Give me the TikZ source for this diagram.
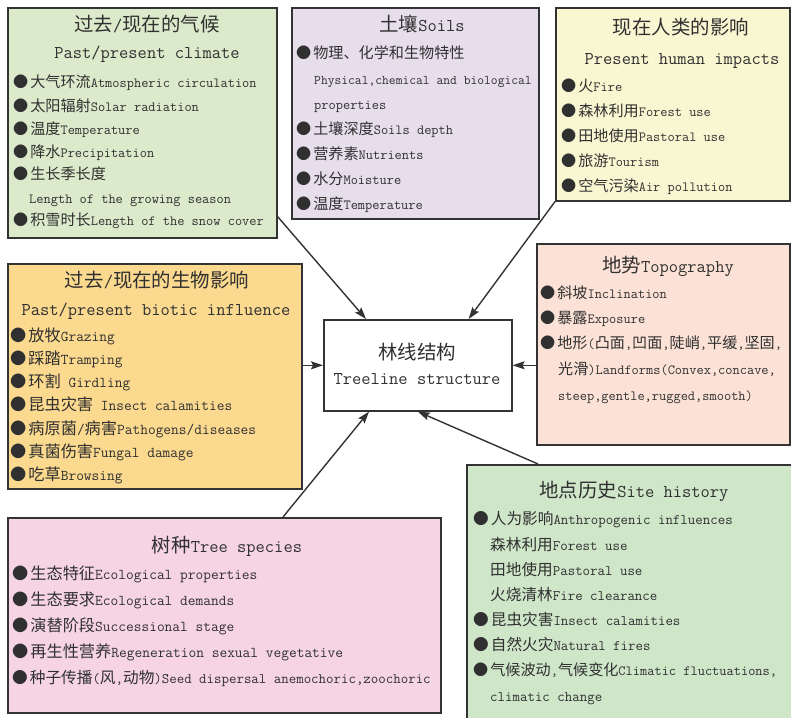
\documentclass[tikz,border=0pt]{standalone}
\usepackage{fontspec}
\newfontfamily\cjk[Scale=1.08]{Noto Sans CJK SC}
\usetikzlibrary{arrows.meta}
\newcommand\zh[1]{{\cjk #1}}
\newcommand\bul{{\cjk ●}\hspace{2pt}}
\definecolor{boxline}{HTML}{333333}
\definecolor{txt}{HTML}{303030}
\definecolor{climfill}{HTML}{DCEACC}
\definecolor{soilfill}{HTML}{E6DEEB}
\definecolor{humanfill}{HTML}{F9F7D2}
\definecolor{bioticfill}{HTML}{FBD98F}
\definecolor{topofill}{HTML}{FCE2D6}
\definecolor{treefill}{HTML}{F6D4E4}
\definecolor{sitefill}{HTML}{CFE6C9}
\begin{document}
\begin{tikzpicture}[x=1pt,y=-1pt,
  box/.style={draw=boxline,line width=1.6pt,anchor=north west,inner sep=0pt},
  ttl/.style={font=\ttfamily\fontsize{18}{20}\selectfont,text=txt,anchor=base,inner sep=0pt},
  itm/.style={font=\ttfamily\fontsize{14}{16}\selectfont,text=txt,anchor=base west,inner sep=0pt},
  itmb/.style={itm,font=\ttfamily\fontsize{15}{17}\selectfont},
  itmm/.style={itm,font=\ttfamily\fontsize{14.5}{16}\selectfont},
  arr/.style={draw=boxline,line width=1.4pt,-{Stealth[length=12pt,width=8pt,inset=2pt]}}]
\useasboundingbox (0,0) rectangle (791,717);
\fill[white] (0,0) rectangle (791,717);

% boxes
\node[box,fill=climfill,minimum width=269pt,minimum height=230pt] (clim) at (7,7) {};
\node[box,fill=soilfill,minimum width=247pt,minimum height=211pt] (soil) at (291,7) {};
\node[box,fill=humanfill,minimum width=234pt,minimum height=193pt] (human) at (555,7) {};
\node[box,fill=bioticfill,minimum width=294pt,minimum height=225pt] (biotic) at (7,263) {};
\node[box,fill=topofill,minimum width=253pt,minimum height=201pt] (topo) at (536,243) {};
\node[box,fill=white,minimum width=188pt,minimum height=91pt] (ctr) at (323,319) {};
\node[box,fill=treefill,minimum width=433pt,minimum height=195pt] (tree) at (7,517) {};
\node[box,fill=sitefill,minimum width=334pt,minimum height=266pt] (site) at (466,464) {};

% climate
\node[ttl] (c0) at (147,31) {\zh{过去}/\zh{现在的气候}};
\node[ttl] (c1) at (147,59) {Past/present climate};
\node[itm] (c2) at (13,87) {\bul\zh{大气环流}Atmospheric circulation};
\node[itm] (c3) at (13,111) {\bul\zh{太阳辐射}Solar radiation};
\node[itm] (c4) at (13,134) {\bul\zh{温度}Temperature};
\node[itm] (c5) at (13,157) {\bul\zh{降水}Precipitation};
\node[itm] (c6) at (13,179) {\bul\zh{生长季长度}};
\node[itm] (c7) at (29,203) {Length of the growing season};
\node[itm] (c8) at (13,225) {\bul\zh{积雪时长}Length of the snow cover};

% soils
\node[ttl] (s0) at (422,31) {\zh{土壤}Soils};
\node[itm] (s1) at (296,58) {\bul\zh{物理、化学和生物特性}};
\node[itm,font=\ttfamily\fontsize{13.2}{15}\selectfont] (s2) at (314,84) {Physical,chemical and biological};
\node[itm] (s3) at (314,109) {properties};
\node[itm] (s4) at (296,134) {\bul\zh{土壤深度}Soils depth};
\node[itm] (s5) at (296,159) {\bul\zh{营养素}Nutrients};
\node[itm] (s6) at (296,184) {\bul\zh{水分}Moisture};
\node[itm] (s7) at (296,209) {\bul\zh{温度}Temperature};

% human
\node[ttl] (h0) at (681,35) {\zh{现在人类的影响}};
\node[ttl] (h1) at (682,64) {Present human impacts};
\node[itm] (h2) at (561,91) {\bul\zh{火}Fire};
\node[itm] (h3) at (561,116) {\bul\zh{森林利用}Forest use};
\node[itm] (h4) at (561,141) {\bul\zh{田地使用}Pastoral use};
\node[itm] (h5) at (561,166) {\bul\zh{旅游}Tourism};
\node[itm] (h6) at (561,191) {\bul\zh{空气污染}Air pollution};

% biotic
\node[ttl] (b0) at (157,287) {\zh{过去}/\zh{现在的生物影响}};
\node[ttl] (b1) at (156,315) {Past/present biotic influence};
\node[itmb] (b2) at (10,341) {\bul\zh{放牧}Grazing};
\node[itmb] (b3) at (10,364) {\bul\zh{踩踏}Tramping};
\node[itmb] (b4) at (10,387) {\bul\zh{环割} Girdling};
\node[itmb] (b5) at (10,410) {\bul\zh{昆虫灾害} Insect calamities};
\node[itmb] (b6) at (10,434) {\bul\zh{病原菌}/\zh{病害}Pathogens/diseases};
\node[itmb] (b7) at (10,457) {\bul\zh{真菌伤害}Fungal damage};
\node[itmb] (b8) at (10,480) {\bul\zh{吃草}Browsing};

% topography
\node[ttl] (t0) at (668,272) {\zh{地势}Topography};
\node[itm] (t1) at (540,298) {\bul\zh{斜坡}Inclination};
\node[itm] (t2) at (540,323) {\bul\zh{暴露}Exposure};
\node[itm] (t3) at (540,348) {\bul\zh{地形}(\zh{凸面},\zh{凹面},\zh{陡峭},\zh{平缓},\zh{坚固},};
\node[itm] (t4) at (558,374) {\zh{光滑})Landforms(Convex,concave,};
\node[itm] (t5) at (558,400) {steep,gentle,rugged,smooth)};

% centre
\node[ttl] (m0) at (417,359) {\zh{林线结构}};
\node[ttl] (m1) at (417,384) {Treeline structure};

% tree species
\node[ttl] (r0) at (227,552) {\zh{树种}Tree species};
\node[itmb] (r1) at (12,579) {\bul\zh{生态特征}Ecological properties};
\node[itmb] (r2) at (12,605) {\bul\zh{生态要求}Ecological demands};
\node[itmb] (r3) at (12,631) {\bul\zh{演替阶段}Successional stage};
\node[itmb] (r4) at (12,657) {\bul\zh{再生性营养}Regeneration sexual vegetative};
\node[itmm] (r5) at (12,683) {\bul\zh{种子传播}(\zh{风},\zh{动物})Seed dispersal anemochoric,zoochoric};

% site history
\node[ttl] (p0) at (634,497) {\zh{地点历史}Site history};
\node[itmm] (p1) at (473,524) {\bul\zh{人为影响}Anthropogenic influences};
\node[itmm] (p2) at (490,550) {\zh{森林利用}Forest use};
\node[itmm] (p3) at (490,575) {\zh{田地使用}Pastoral use};
\node[itmm] (p4) at (490,600) {\zh{火烧清林}Fire clearance};
\node[itmm] (p5) at (473,625) {\bul\zh{昆虫灾害}Insect calamities};
\node[itmm] (p6) at (473,650) {\bul\zh{自然火灾}Natural fires};
\node[itm] (p7) at (473,675) {\bul\zh{气候波动},\zh{气候变化}Climatic fluctuations,};
\node[itmm] (p8) at (490,701) {climatic change};

% connectors
\draw[arr] ([yshift=22pt]clim.south east) -- ([xshift=43pt]ctr.north west);
\draw[arr] (human.south west) -- ([xshift=-44pt]ctr.north east);
\draw[arr] (biotic.east |- ctr.west) -- (ctr.west);
\draw[arr] (topo.west |- ctr.east) -- (ctr.east);
\draw[arr] ([xshift=276pt]tree.north west) -- ([xshift=46pt]ctr.south west);
\draw[arr] ([xshift=72pt]site.north west) -- (ctr.south);
\end{tikzpicture}
\end{document}
